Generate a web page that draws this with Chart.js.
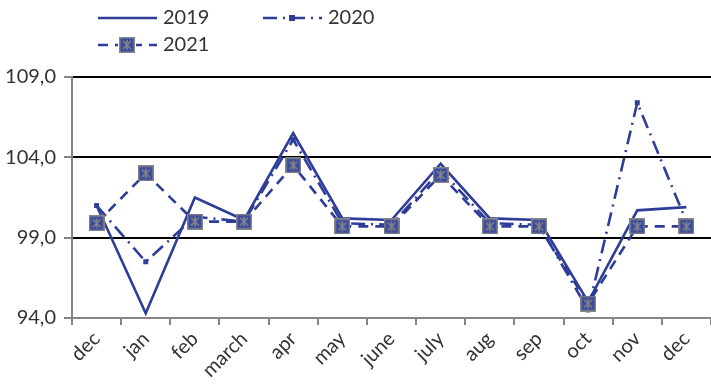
<!DOCTYPE html>
<html><head><meta charset="utf-8">
<script src="https://cdn.jsdelivr.net/npm/chart.js@4/dist/chart.umd.min.js"></script>
<style>html,body{margin:0;padding:0;background:#fff}#wrap{width:711px;height:390px;position:relative}</style>
</head><body><div id="wrap"><canvas id="c" width="711" height="390"></canvas></div>
<script>
const categories = ['dec','jan','feb','march','apr','may','june','july','aug','sep','oct','nov','dec'];
const series2019 = [101.0, 94.3, 101.5, 100.1, 105.5, 100.2, 100.1, 103.6, 100.2, 100.1, 95.0, 100.7, 100.9];
const series2020 = [101.0, 97.5, 100.3, 100.0, 105.1, 99.9, 99.8, 103.2, 99.9, 99.8, 94.5, 107.4, 100.0];
const series2021 = [99.9, 103.0, 100.0, 100.0, 103.5, 99.7, 99.7, 102.9, 99.7, 99.7, 94.9, 99.7, 99.7];
const seriesNames = ['2019','2020','2021'];
const yTicks = [94, 99, 104, 109];

const BLUE = '#2E3D98';
const GRAY = '#858585';
const FONT = 'Lato, "Liberation Sans", sans-serif';

function makeMarker(){
  const s = 16, c = document.createElement('canvas');
  c.width = s; c.height = s;
  const g = c.getContext('2d');
  g.fillStyle = '#3A4A9E'; g.fillRect(0,0,s,s);
  g.strokeStyle = GRAY; g.lineWidth = 1.5; g.strokeRect(0.75,0.75,s-1.5,s-1.5);
  g.lineWidth = 1.6;
  g.beginPath();
  g.moveTo(s/2,3); g.lineTo(s/2,s-3);
  g.moveTo(4,4); g.lineTo(s-4,s-4);
  g.moveTo(s-4,4); g.lineTo(4,s-4);
  g.stroke();
  return c;
}
const marker21 = makeMarker();

const legendPlugin = {
  id: 'customLegend',
  afterDraw(chart){
    const ctx = chart.ctx;
    ctx.save();
    ctx.strokeStyle = BLUE; ctx.lineWidth = 2.5;
    ctx.font = '20px ' + FONT; ctx.fillStyle = '#333'; ctx.textBaseline = 'middle';
    ctx.setLineDash([]);
    ctx.beginPath(); ctx.moveTo(98,18); ctx.lineTo(157,18); ctx.stroke();
    ctx.fillText(seriesNames[0], 163, 18);
    ctx.setLineDash([14,6,2,6]);
    ctx.beginPath(); ctx.moveTo(263,18); ctx.lineTo(322,18); ctx.stroke();
    ctx.setLineDash([]);
    ctx.fillStyle = BLUE; ctx.fillRect(289,15,6,6);
    ctx.fillStyle = '#333';
    ctx.fillText(seriesNames[1], 328, 18);
    ctx.setLineDash([10,7]);
    ctx.beginPath(); ctx.moveTo(98,45); ctx.lineTo(157,45); ctx.stroke();
    ctx.setLineDash([]);
    ctx.fillStyle = '#fff'; ctx.fillRect(118,36,18,18);
    ctx.drawImage(marker21, 119, 37);
    ctx.fillStyle = '#333';
    ctx.fillText(seriesNames[2], 163, 45);
    ctx.restore();
  }
};

new Chart(document.getElementById('c'), {
  type: 'line',
  data: {
    labels: categories,
    datasets: [
      { label: seriesNames[0], data: series2019, borderColor: BLUE, backgroundColor: BLUE,
        borderWidth: 2.6, pointRadius: 0, order: 2, tension: 0, clip: false },
      { label: seriesNames[1], data: series2020, borderColor: BLUE, backgroundColor: BLUE,
        borderWidth: 2.6, borderDash: [14,6,2,6], pointStyle: 'rect', pointRadius: 3.5,
        pointBorderWidth: 0, order: 1, tension: 0, clip: false },
      { label: seriesNames[2], data: series2021, borderColor: BLUE, backgroundColor: BLUE,
        borderWidth: 2.6, borderDash: [10,7], pointStyle: marker21, pointRadius: 8, order: 0, tension: 0, clip: false }
    ]
  },
  options: {
    responsive: false,
    animation: false,
    devicePixelRatio: 1,
    layout: { autoPadding: false, padding: { top: 77, right: 0, left: 0, bottom: 0 } },
    plugins: { legend: { display: false }, tooltip: { enabled: false } },
    scales: {
      x: {
        offset: true,
        grid: { offset: true, drawOnChartArea: false, drawTicks: true, tickLength: 7, tickColor: GRAY, lineWidth: 2 },
        border: { color: GRAY, width: 2 },
        ticks: { minRotation: 45, maxRotation: 45, color: '#333', font: { family: FONT, size: 20 }, padding: 2 },
        afterFit(s){ s.height = 72; s.paddingRight = 0; }
      },
      y: {
        min: 94, max: 109,
        afterBuildTicks(s){ s.ticks = yTicks.map(v => ({ value: v })); },
        grid: { color: ctx => ctx.tick && ctx.tick.value === 94 ? 'rgba(0,0,0,0)' : '#000', lineWidth: 2,
                tickColor: GRAY, tickLength: 8 },
        border: { color: GRAY, width: 2 },
        ticks: { color: '#333', font: { family: FONT, size: 20 }, padding: 8,
                 callback: v => v.toFixed(1).replace('.', ',') },
        afterFit(s){ s.width = 72; }
      }
    }
  },
  plugins: [legendPlugin]
});
</script>
</body></html>
